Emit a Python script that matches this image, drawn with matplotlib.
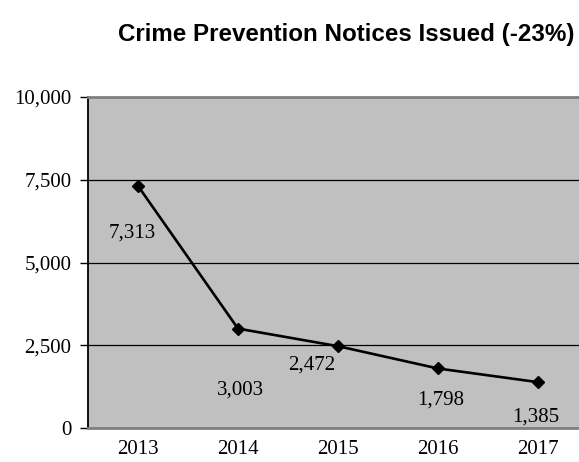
import matplotlib.pyplot as plt
from matplotlib.ticker import FuncFormatter

# Notices issued per year
years = ['2013', '2014', '2015', '2016', '2017']
notices = [7313, 3003, 2472, 1798, 1385]

# Where each value label sits relative to its point (pixels)
label_offsets = [(-6, -47), (3, -61), (-26, -19), (3, -32), (-2, -35)]

fig = plt.figure(figsize=(5.79, 4.62), dpi=100)
ax = fig.add_axes([88 / 579, 34 / 462, 500 / 579, 331 / 462])
ax.set_facecolor('#c0c0c0')

xs = range(len(years))
ax.plot(xs, notices, color='black', linewidth=1.9, marker='D', markersize=6.5, zorder=3)

for x, v, (dx, dy) in zip(xs, notices, label_offsets):
    ax.annotate(f'{v:,}', (x, v), xytext=(dx, dy), textcoords='offset pixels',
                ha='center', va='center', fontsize=15, family='Liberation Serif')

ax.set_xlim(-0.5, 4.5)
ax.set_ylim(0, 10000)
ax.set_xticks(list(xs))
ax.set_xticklabels(years)
ax.set_yticks([0, 2500, 5000, 7500, 10000])
ax.yaxis.set_major_formatter(FuncFormatter(lambda v, p: f'{int(v):,}'))

for lbl in ax.get_xticklabels() + ax.get_yticklabels():
    lbl.set_family('Liberation Serif')
    lbl.set_fontsize(15)

ax.tick_params(axis='x', length=0, pad=9)
ax.tick_params(axis='y', length=6, width=1, pad=6, direction='out')

ax.yaxis.grid(True, color='black', linewidth=0.9)
ax.set_axisbelow(True)

ax.spines['left'].set_color('black')
ax.spines['left'].set_linewidth(1.3)
ax.spines['top'].set_color('#808080')
ax.spines['top'].set_linewidth(2)
ax.spines['bottom'].set_color('#808080')
ax.spines['bottom'].set_linewidth(2)
ax.spines['right'].set_visible(False)

fig.text(346 / 579, 1 - 34 / 462, 'Crime Prevention Notices Issued (-23%)',
         ha='center', va='center', fontsize=17.4, fontweight='bold', family='Liberation Sans')

fig.savefig('out.png', dpi=100)
